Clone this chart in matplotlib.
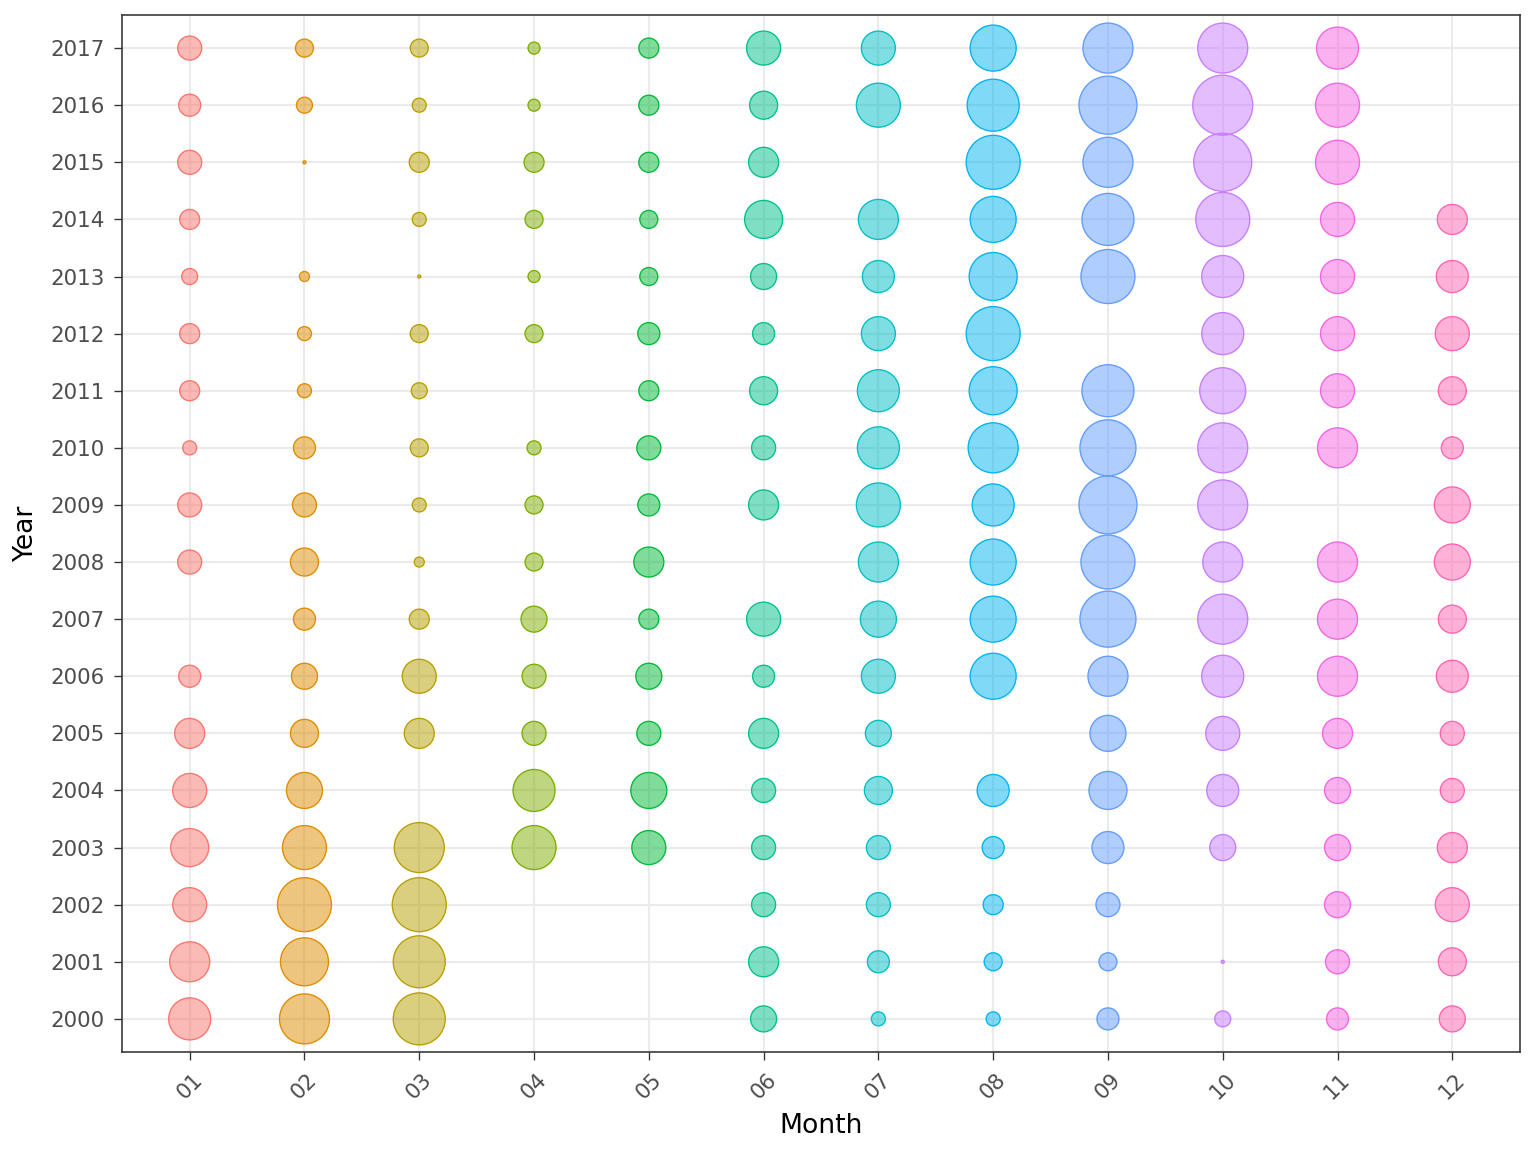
import matplotlib

matplotlib.use("Agg")

import matplotlib.pyplot as plt
import numpy as np

months = ["01", "02", "03", "04", "05", "06", "07", "08", "09", "10", "11", "12"]
years = list(range(2000, 2018))
N = None

# bubble size (radius-like value) per month, years 2000..2017
m01 = [21, 20, 17, 19, 17, 15, 11, N, 12, 12, 7, 10, 10, 8, 10, 12, 11, 12]
m02 = [25, 24, 27, 22, 18, 14, 13, 11, 14, 12, 11, 7, 7, 5, N, 1.5, 8, 9]
m03 = [26, 26, 27, 25, N, 15, 17, 10, 5, 7, 9, 8, 9, 1.5, 7, 10, 7, 9]
m04 = [N, N, N, 22, 21, 12, 12, 13, 9, 9, 7, N, 9, 6, 9, 10, 6, 6]
m05 = [N, N, N, 17, 18, 12, 13, 10, 15, 11, 12, 10, 11, 9, 9, 10, 10, 10]
m06 = [13, 15, 12, 12, 12, 15, 11, 17, N, 15, 12, 14, 11, 13, 19, 15, 14, 17]
m07 = [7, 11, 12, 12, 14, 13, 17, 18, 20, 22, 21, 21, 17, 16, 20, N, 22, 17]
m08 = [7, 9, 10, 11, 16, N, 23, 23, 23, 21, 25, 24, 27, 24, 23, 27, 26, 23]
m09 = [11, 9, 12, 16, 19, 18, 20, 28, 27, 29, 28, 26, N, 27, 26, 25, 29, 25]
m10 = [8, 1.5, N, 13, 16, 17, 21, 25, 20, 25, 25, 23, 21, 21, 27, 29, 30, 25]
m11 = [11, 12, 13, 13, 13, 15, 20, 20, 20, N, 20, 17, 17, 17, 17, 22, 22, 21]
m12 = [13, 14, 17, 15, 12, 12, 16, 14, 18, 18, 11, 14, 17, 16, 15, N, N, N]
values = [m01, m02, m03, m04, m05, m06, m07, m08, m09, m10, m11, m12]

colors = ["#F8766D", "#DE8C00", "#B79F00", "#7CAE00", "#00BA38", "#00C08B",
          "#00BFC4", "#00B4F0", "#619CFF", "#C77CFF", "#F564E3", "#FF64B0"]

fig = plt.figure(figsize=(8, 6), dpi=192)
ax = fig.add_axes([0.0794, 0.0868, 0.9102, 0.9002])

for i, (col, color) in enumerate(zip(values, colors)):
    xs, ys, ss = [], [], []
    for y, v in zip(years, col):
        if v is None:
            continue
        xs.append(i + 1)
        ys.append(y)
        ss.append((0.75 * v) ** 2)
    ax.scatter(xs, ys, s=ss, facecolor=matplotlib.colors.to_rgba(color, 0.5),
               edgecolor=color, linewidth=0.5, zorder=3)

ax.set_xlim(0.41, 12.59)
ax.set_ylim(1999.42, 2017.58)
ax.set_xticks(range(1, 13))
ax.set_xticklabels(months, rotation=45, fontsize=8, color="#4d4d4d")
ax.set_yticks(years)
ax.set_yticklabels([str(y) for y in years], fontsize=8, color="#4d4d4d")
ax.tick_params(length=3, width=0.5, color="#333333")
ax.grid(color="#ebebeb", linewidth=0.8, zorder=0)
ax.set_axisbelow(True)
for sp in ax.spines.values():
    sp.set_color("#333333")
    sp.set_linewidth(0.6)
ax.set_xlabel("Month", fontsize=10)
ax.set_ylabel("Year", fontsize=10)

fig.savefig("out.png", dpi=192)
